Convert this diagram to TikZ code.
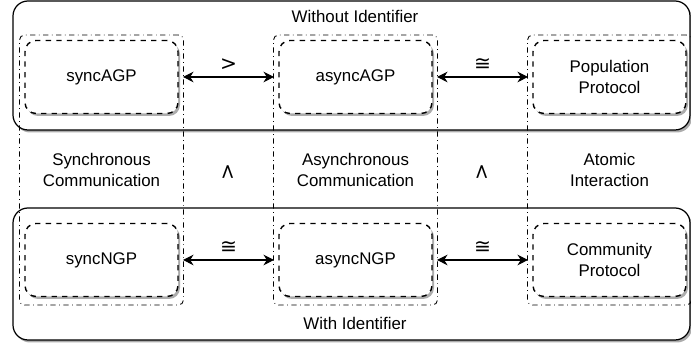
\documentclass[tikz,border=0pt]{standalone}
\usepackage{fontspec}
\setmainfont{Liberation Sans}
\newfontfamily\symfont{DejaVu Sans}
\usetikzlibrary{shadows,arrows.meta}

\begin{document}
\begin{tikzpicture}[
		font=\fontsize{9.6}{11.5}\selectfont,
		schatten/.style={drop shadow={shadow xshift=0.04cm,shadow yshift=-0.05cm,opacity=0.65}},
		bereich/.style={draw,line width=0.7pt,rounded corners=0.3cm,fill=white,schatten},
		spalte/.style={draw,dash dot,line width=0.5pt,rounded corners=0.1cm,minimum width=3.28cm,minimum height=5.4cm},
		modell/.style={draw,dashed,line width=0.8pt,rounded corners=0.22cm,fill=white,schatten,minimum width=3.06cm,minimum height=1.46cm,align=center,outer sep=0.1cm},
		pfeil/.style={{Stealth[length=6pt,width=6pt]}-{Stealth[length=6pt,width=6pt]},line width=0.6pt},
		beschr/.style={align=center},
		symb/.style={font=\fontsize{11.5}{13}\symfont},
		rel/.style={symb,above=0pt}]
		\useasboundingbox (0,0) rectangle (13.82,6.94);

		% Bereiche
		\node (ohneID) at (7.03,5.63) [bereich,minimum width=13.54cm,minimum height=2.58cm] {};
		\node (mitID) at (7.03,1.46) [bereich,minimum width=13.54cm,minimum height=2.64cm] {};
		\node (ohneIDtxt) at (7.1,6.62) [beschr] {Without Identifier};
		\node (mitIDtxt) at (7.1,0.48) [beschr] {With Identifier};

		% Spalten
		\node (sync) at (2.03,3.54) [spalte] {};
		\node (async) at (7.11,3.54) [spalte] {};
		\node (atomic) at (12.19,3.54) [spalte] {};
		\node (synctxt) at (2.03,3.54) [beschr] {Synchronous\\Communication};
		\node (asynctxt) at (7.11,3.54) [beschr] {Asynchronous\\Communication};
		\node (atomictxt) at (12.19,3.54) [beschr] {Atomic\\Interaction};
		\node (vgl1) at (4.57,3.5) [symb,rotate=90] {>};
		\node (vgl2) at (9.65,3.5) [symb,rotate=90] {>};

		% Knoten
		\node (syncAGP) at (2.03,5.4) [modell] {syncAGP};
		\node (asyncAGP) at (7.11,5.4) [modell] {asyncAGP};
		\node (PP) at (12.19,5.4) [modell] {Population\\Protocol};
		\node (syncNGP) at (2.03,1.74) [modell] {syncNGP};
		\node (asyncNGP) at (7.11,1.74) [modell] {asyncNGP};
		\node (CP) at (12.19,1.74) [modell] {Community\\Protocol};

		% Kanten
		\draw[pfeil] (syncAGP) to node[rel] {>} (asyncAGP);
		\draw[pfeil] (asyncAGP) to node[rel] {≅} (PP);
		\draw[pfeil] (syncNGP) to node[rel] {≅} (asyncNGP);
		\draw[pfeil] (asyncNGP) to node[rel] {≅} (CP);
	\end{tikzpicture}
\end{document}
